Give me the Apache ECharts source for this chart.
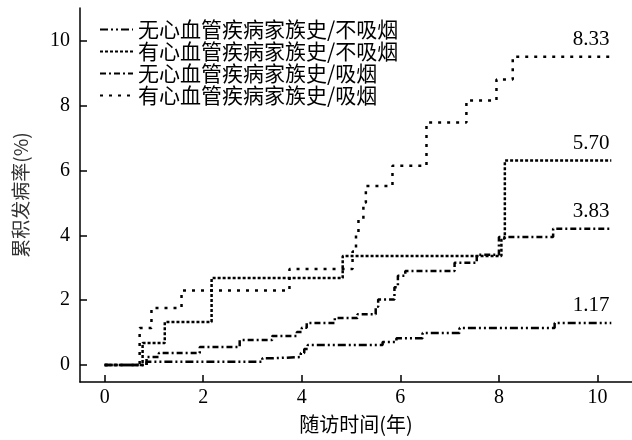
<!DOCTYPE html>
<html><head><meta charset="utf-8">
<script src="https://cdn.jsdelivr.net/npm/echarts@6/dist/echarts.min.js"></script>
<style>html,body{margin:0;padding:0;background:#fff}#c{width:632px;height:440px}</style>
</head><body><div id="c"></div>
<script>
const seriesNames = ['无心血管疾病家族史/不吸烟','有心血管疾病家族史/不吸烟','无心血管疾病家族史/吸烟','有心血管疾病家族史/吸烟'];
const s1 = [[0,0],[0.85,0.1],[3.2,0.21],[3.4,0.25],[3.98,0.37],[4.05,0.5],[4.12,0.62],[5.64,0.71],[5.92,0.83],[6.45,0.99],[7.2,1.14],[9.13,1.3],[10.28,1.3]];
const s2 = [[0,0],[0.77,0.68],[1.22,1.33],[2.17,2.68],[4.83,3.36],[8.05,3.9],[8.12,6.3],[10.28,6.3]];
const s3 = [[0,0],[0.85,0.25],[1.1,0.37],[1.93,0.56],[2.74,0.77],[3.4,0.9],[3.9,1.02],[4.0,1.15],[4.1,1.3],[4.67,1.45],[5.13,1.57],[5.5,1.8],[5.55,2.02],[5.88,2.4],[5.95,2.75],[6.1,2.9],[7.1,3.15],[7.55,3.4],[8.0,3.95],[9.1,4.2],[10.28,4.2]];
const s4 = [[0,0],[0.71,1.14],[0.95,1.76],[1.56,2.3],[3.75,2.96],[5.03,3.5],[5.1,4.0],[5.15,4.5],[5.25,5.0],[5.3,5.52],[5.84,6.14],[6.53,7.47],[7.34,8.15],[7.95,8.8],[8.28,9.5],[10.28,9.5]];
const endLabels = ['1.17','5.70','3.83','8.33'];
const xTicks = [0,2,4,6,8,10];
const yTicks = [0,2,4,6,8,10];

const dashes = [[8,3,2,3,2,3],[3,2],[6,3,2,3],[3,6]];
const datas = [s1,s2,s3,s4];
const serif = '"Liberation Serif","DejaVu Serif",serif';
const cjk = '"Noto Sans CJK SC","Liberation Serif",serif';

const chart = echarts.init(document.getElementById('c'), null, {renderer:'canvas'});
chart.setOption({
  animation:false,
  backgroundColor:'#fff',
  grid:{left:80,right:0,top:8,bottom:58},
  legend:{
    orient:'vertical', left:94, top:14, itemWidth:33, itemHeight:14, itemGap:1,
    itemStyle:{opacity:0},
    textStyle:{fontSize:21, lineHeight:21, color:'#000', fontFamily:cjk},
    data:seriesNames
  },
  xAxis:{
    type:'value', min:-0.5, max:10.7,
    name:'随访时间(年)', nameLocation:'middle', nameGap:32,
    nameTextStyle:{fontSize:20, color:'#000', fontFamily:cjk},
    axisLine:{show:true, onZero:false, lineStyle:{color:'#000', width:1.5}},
    axisTick:{show:true, inside:true, length:7, customValues:xTicks, lineStyle:{color:'#000', width:1.5}},
    axisLabel:{customValues:xTicks, fontSize:20, color:'#000', fontFamily:serif, margin:6},
    splitLine:{show:false}
  },
  yAxis:{
    type:'value', min:-0.52, max:11,
    name:'累积发病率(%)', nameLocation:'middle', nameGap:50,
    nameTextStyle:{fontSize:19, color:'#333', fontFamily:cjk},
    axisLine:{show:true, onZero:false, lineStyle:{color:'#000', width:1.5}},
    axisTick:{show:true, inside:true, length:7, customValues:yTicks, lineStyle:{color:'#000', width:1.5}},
    axisLabel:{customValues:yTicks, fontSize:20, color:'#000', fontFamily:serif, margin:10},
    splitLine:{show:false}
  },
  series: datas.map((d,i)=>({
    name:seriesNames[i], type:'line', step:'end', data:d, symbol:'none',
    color:'#000',
    itemStyle:{opacity:0},
    lineStyle:{color:'#000', width:2.5, type:dashes[i]},
    markPoint:{
      symbol:'circle', symbolSize:0, silent:true,
      data:[{coord:[9.87, d[d.length-1][1]]}],
      label:{show:true, position:'inside', offset:[0,-17], formatter:endLabels[i], fontSize:21, color:'#000', fontFamily:serif}
    }
  }))
});
</script></body></html>
